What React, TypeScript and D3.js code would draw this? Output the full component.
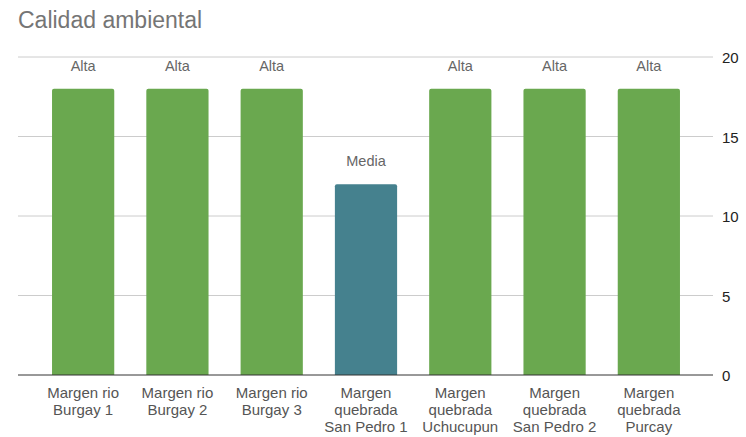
import React from "react";
import * as d3 from "d3";

const categories = [
  ["Margen rio", "Burgay 1"],
  ["Margen rio", "Burgay 2"],
  ["Margen rio", "Burgay 3"],
  ["Margen", "quebrada", "San Pedro 1"],
  ["Margen", "quebrada", "Uchucupun"],
  ["Margen", "quebrada", "San Pedro 2"],
  ["Margen", "quebrada", "Purcay"],
];
const values = [18, 18, 18, 12, 18, 18, 18];
const labels = ["Alta", "Alta", "Alta", "Media", "Alta", "Alta", "Alta"];
const barColors = ["#6aa84f", "#6aa84f", "#6aa84f", "#45818e", "#6aa84f", "#6aa84f", "#6aa84f"];
const yTicks = [0, 5, 10, 15, 20];

export default function App() {
  const W = 746, H = 437;
  const plotL = 18, plotR = 713;
  const x = d3.scaleBand<number>().domain(d3.range(values.length)).range([36, 696]).paddingInner(0.34).paddingOuter(0.17);
  const y = d3.scaleLinear().domain([0, 20]).range([375, 57]);
  const font = "'Liberation Sans', Arial, sans-serif";
  return (
    <svg width={W} height={H} style={{ position: "absolute", left: 0, top: 0, background: "#fff" }}>
      <text x={18} y={28} fontFamily={font} fontSize={23} fill="#757575">Calidad ambiental</text>
      {yTicks.map((t) => (
        <g key={t}>
          {t > 0 && <line x1={plotL} x2={plotR} y1={y(t)} y2={y(t)} stroke="#cccccc" strokeWidth={1} />}
          <text x={722} y={y(t) + 6} fontFamily={font} fontSize={15} fill="#222">{t}</text>
        </g>
      ))}
      {values.map((v, i) => {
        const bx = x(i)!;
        const bw = x.bandwidth();
        const top = y(v);
        const r = 2;
        const path = `M${bx},${y(0)} V${top + r} Q${bx},${top} ${bx + r},${top} H${bx + bw - r} Q${bx + bw},${top} ${bx + bw},${top + r} V${y(0)} Z`;
        return (
          <g key={i}>
            <path d={path} fill={barColors[i]} />
            <text x={bx + bw / 2} y={top - 18} textAnchor="middle" fontFamily={font} fontSize={14.5} fill="#666">{labels[i]}</text>
            {categories[i].map((ln, j) => (
              <text key={j} x={bx + bw / 2} y={398 + j * 17} textAnchor="middle" fontFamily={font} fontSize={15} fill="#555">{ln}</text>
            ))}
          </g>
        );
      })}
      <line x1={plotL} x2={plotR} y1={y(0)} y2={y(0)} stroke="#333" strokeWidth={1} />
    </svg>
  );
}
